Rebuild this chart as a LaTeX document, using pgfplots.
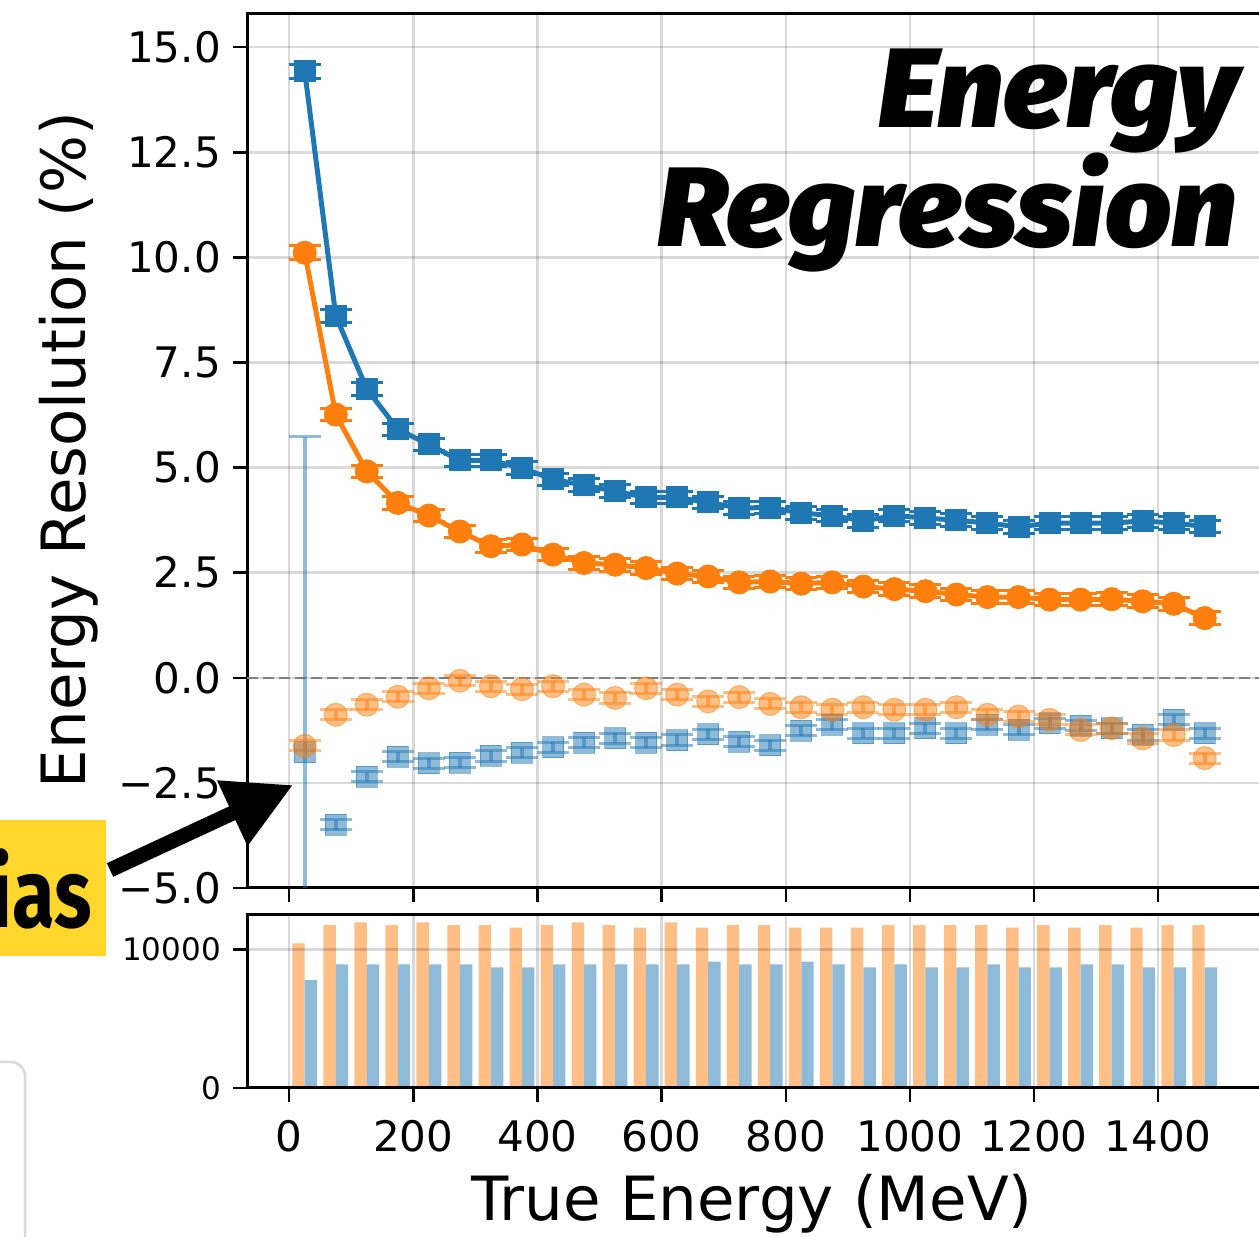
\documentclass[border=0pt]{standalone}
\usepackage{pgfplots}
\usepackage{pgfplotstable}
\pgfplotsset{compat=1.18}
\usetikzlibrary{arrows.meta}
\usepackage{fontspec}
\setmainfont{DejaVu Sans}
\newfontfamily\notefont{Fira Sans}
\IfFontExistsTF{Fira Sans Black Italic}
  {\newfontfamily\titlefont{Fira Sans Black Italic}}
  {\newcommand\titlefont{\notefont\bfseries\itshape}}

\definecolor{tabblue}{HTML}{1F77B4}
\definecolor{taborange}{HTML}{FF7F0E}
\definecolor{barblue}{HTML}{8FBBD9}
\definecolor{barorange}{HTML}{FFBF86}
\definecolor{noteyellow}{HTML}{FED62C}

\newcommand\tickfont{\fontsize{42.2pt}{42.2pt}\selectfont}
\newcommand\smalltickfont{\fontsize{31.1pt}{31.1pt}\selectfont}
\newcommand\labelfont{\fontsize{61.2pt}{61.2pt}\selectfont}

% resolution per 50 MeV bin (x = bin centre), with errors
\pgfplotstableread{
x y e
25 14.43 0.17
75 8.61 0.15
125 6.87 0.15
175 5.91 0.15
225 5.55 0.15
275 5.17 0.15
325 5.17 0.15
375 4.99 0.15
425 4.72 0.15
475 4.58 0.15
525 4.44 0.15
575 4.29 0.15
625 4.29 0.15
675 4.17 0.15
725 4.04 0.15
775 4.05 0.15
825 3.92 0.15
875 3.86 0.15
925 3.73 0.15
975 3.86 0.15
1025 3.80 0.15
1075 3.75 0.15
1125 3.68 0.15
1175 3.59 0.15
1225 3.68 0.15
1275 3.68 0.15
1325 3.68 0.15
1375 3.73 0.15
1425 3.68 0.15
1475 3.60 0.15
}\blueres

\pgfplotstableread{
x y e
25 10.11 0.17
75 6.26 0.15
125 4.91 0.15
175 4.16 0.15
225 3.86 0.15
275 3.48 0.15
325 3.13 0.15
375 3.17 0.15
425 2.93 0.15
475 2.73 0.15
525 2.69 0.15
575 2.61 0.15
625 2.48 0.15
675 2.41 0.15
725 2.27 0.15
775 2.29 0.15
825 2.24 0.15
875 2.27 0.15
925 2.17 0.15
975 2.11 0.15
1025 2.06 0.15
1075 1.98 0.15
1125 1.92 0.15
1175 1.92 0.15
1225 1.86 0.15
1275 1.86 0.15
1325 1.87 0.15
1375 1.82 0.15
1425 1.76 0.15
1475 1.42 0.15
}\orangeres

% bias per bin
\pgfplotstableread{
x y e
25 -1.77 7.5
75 -3.50 0.12
125 -2.35 0.12
175 -1.88 0.12
225 -2.03 0.12
275 -2.02 0.12
325 -1.86 0.12
375 -1.78 0.12
425 -1.65 0.12
475 -1.54 0.12
525 -1.44 0.12
575 -1.54 0.12
625 -1.48 0.12
675 -1.34 0.12
725 -1.52 0.12
775 -1.60 0.12
825 -1.26 0.12
875 -1.12 0.12
925 -1.32 0.12
975 -1.32 0.12
1025 -1.20 0.12
1075 -1.32 0.12
1125 -1.12 0.12
1175 -1.24 0.12
1225 -1.08 0.12
1275 -1.14 0.12
1325 -1.20 0.12
1375 -1.36 0.12
1425 -1.00 0.12
1475 -1.32 0.12
}\bluebias

\pgfplotstableread{
x y e
25 -1.62 0.12
75 -0.88 0.12
125 -0.64 0.12
175 -0.45 0.12
225 -0.25 0.12
275 -0.07 0.12
325 -0.20 0.12
375 -0.27 0.12
425 -0.20 0.12
475 -0.40 0.12
525 -0.48 0.12
575 -0.25 0.12
625 -0.40 0.12
675 -0.56 0.12
725 -0.46 0.12
775 -0.62 0.12
825 -0.70 0.12
875 -0.76 0.12
925 -0.70 0.12
975 -0.76 0.12
1025 -0.76 0.12
1075 -0.70 0.12
1125 -0.88 0.12
1175 -0.92 0.12
1225 -1.00 0.12
1275 -1.24 0.12
1325 -1.20 0.12
1375 -1.44 0.12
1425 -1.36 0.12
1475 -1.91 0.12
}\orangebias

% events per bin: o = orange sample, b = blue sample
\pgfplotstableread{
x o b
25 10432 7787
75 11752 8918
125 11945 8918
175 11752 8918
225 11945 8918
275 11752 8918
325 11752 8702
375 11560 8702
425 11752 8918
475 11945 8918
525 11752 8918
575 11560 8918
625 11945 8918
675 11560 9109
725 11752 8918
775 11752 8918
825 11560 9109
875 11560 8918
925 11560 8702
975 11752 8918
1025 11752 8702
1075 11752 8702
1125 11752 8918
1175 11560 8702
1225 11752 8702
1275 11560 8918
1325 11752 8918
1375 11560 8702
1425 11752 8702
1475 11752 8702
}\counts

\pgfplotsset{
  panel/.style={
    scale only axis, width=1019.8bp,
    xmin=-68, xmax=1575,
    axis line style={black, line width=3bp},
    tick align=outside, major tick length=14bp,
    tick style={black, line width=2.5bp},
    xtick pos=left, ytick pos=left,
    xtick={0,200,...,1400},
    grid=major, grid style={black, opacity=0.15, line width=2.5bp},
    yticklabel style={font=\tickfont, inner sep=0pt, anchor=east, xshift=-12bp},
    xticklabel style={font=\tickfont, inner sep=0pt, anchor=north, yshift=-18bp},
  },
  res/.style={line width=5bp, mark options={solid, line width=1bp},
    error bars/.cd, y dir=both, y explicit, error mark=-,
    error bar style={line width=3bp},
    error mark options={rotate=90, mark size=16bp, line width=3bp, #1}},
  bias/.style={only marks, opacity=0.5, mark options={line width=1bp},
    error bars/.cd, y dir=both, y explicit, error mark=-,
    error bar style={line width=4bp},
    error mark options={rotate=90, mark size=16bp, line width=3bp, #1}},
}

\begin{document}
\begin{tikzpicture}
% resolution and bias panel
\begin{axis}[panel,
  at={(247bp,349bp)}, anchor=south west, height=874bp,
  ymin=-5, ymax=15.79,
  ytick={-5,-2.5,0,2.5,5,7.5,10,12.5,15},
  yticklabels={−5.0,−2.5,0.0,2.5,5.0,7.5,10.0,12.5,15.0},
  xticklabels={},
]
\addplot[black!50, line width=2bp, dash pattern=on 11bp off 5bp] coordinates {(-68,0) (1575,0)};
\addplot[tabblue, mark=square*, mark size=10.5bp, res=tabblue] table[x=x, y=y, y error=e] {\blueres};
\addplot[taborange, mark=*, mark size=11.5bp, res=taborange] table[x=x, y=y, y error=e] {\orangeres};
\addplot[tabblue, mark=square*, mark size=10.5bp, bias=tabblue] table[x=x, y=y, y error=e] {\bluebias};
\addplot[taborange, mark=*, mark size=11.5bp, bias=taborange] table[x=x, y=y, y error=e] {\orangebias};
\end{axis}

% event counts panel
\begin{axis}[panel,
  at={(247bp,149bp)}, anchor=south west, height=173bp,
  ymin=0, ymax=12475, axis on top,
  ytick={0,10000}, yticklabels={0,10000}, scaled y ticks=false,
  yticklabel style={font=\smalltickfont},
  xticklabels={0,200,400,600,800,1000,1200,1400},
]
\addplot[ybar, bar width=20, bar shift=0pt, fill=barorange, draw=none]
  table[x expr=\thisrow{x}-10, y=o] {\counts};
\addplot[ybar, bar width=20, bar shift=0pt, fill=barblue, draw=none]
  table[x expr=\thisrow{x}+10, y=b] {\counts};
\end{axis}

% axis titles
\node[rotate=90, anchor=base, inner sep=0pt, font=\labelfont] at (85bp,787bp) {Energy Resolution (\%)};
\node[anchor=base, inner sep=0pt, font=\labelfont] at (752bp,17bp) {True Energy (MeV)};

% heading
\node[anchor=base east, inner sep=0pt, font=\titlefont\fontsize{113.4pt}{113.4pt}\selectfont] at (1239bp,1109bp) {\scalebox{1.04}[1]{Energy}};
\node[anchor=base east, inner sep=0pt, font=\titlefont\fontsize{113.4pt}{113.4pt}\selectfont] at (1237bp,990bp) {\scalebox{1.03}[1]{Regression}};

% call-out for the bias rows
\fill[noteyellow] (-20bp,281bp) rectangle (106bp,417bp);
\node[anchor=base east, inner sep=0pt, font=\notefont\bfseries\fontsize{97.4pt}{97.4pt}\selectfont] at (92bp,309bp) {\scalebox{0.8}[1]{Bias}};
\draw[line width=15bp, -{Triangle[length=67bp, width=68bp]}] (110bp,367bp) -- (293bp,452bp);

% panel frame at lower left
\draw[black!15, line width=2.5bp, rounded corners=14bp] (-200bp,-100bp) rectangle (25bp,175bp);

\pgfresetboundingbox
\useasboundingbox (0,0) rectangle (1259bp,1237bp);
\end{tikzpicture}
\end{document}
